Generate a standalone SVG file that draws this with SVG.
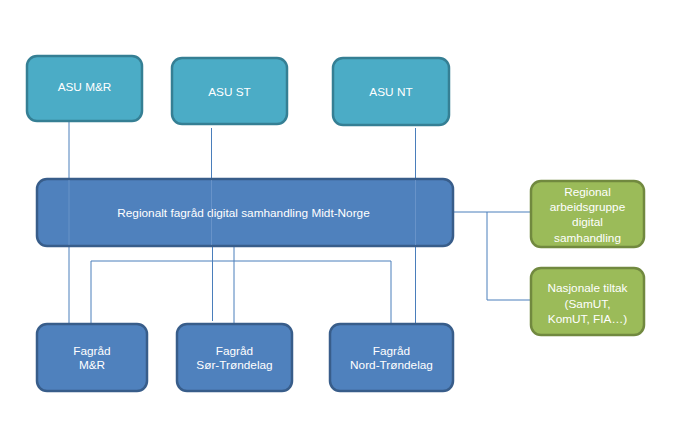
<svg xmlns="http://www.w3.org/2000/svg" width="681" height="430" viewBox="0 0 681 430">
<style>
.asu{fill:#4bacc6;stroke:#357f94;stroke-width:2.5}
.blue{fill:#4f81bd;stroke:#385d8a;stroke-width:2.5}
.green{fill:#9bbb59;stroke:#71893f;stroke-width:2.5}
text{font-family:"Liberation Sans",Arial,sans-serif;font-size:11.8px;fill:#ffffff;text-anchor:middle;dominant-baseline:central}
.c{fill:none;stroke:#4a7ebb;stroke-width:1}
.ci{fill:none;stroke:#7aa0d0;stroke-width:1;opacity:0.6}
</style>
<rect width="681" height="430" fill="#ffffff"/>
<g id="connectors">
<line class="c" x1="69" y1="122" x2="69" y2="179"/>
<line class="c" x1="69" y1="246" x2="69" y2="324"/>
<line class="c" x1="211.5" y1="128" x2="211.5" y2="179"/>
<line class="c" x1="212.5" y1="246" x2="212.5" y2="321"/>
<line class="c" x1="415.5" y1="128" x2="415.5" y2="179"/>
<line class="c" x1="415.5" y1="246" x2="415.5" y2="324"/>
<line class="c" x1="234" y1="246" x2="234" y2="324"/>
<polyline class="c" points="91,324 91,261 391,261 391,324"/>
<line class="c" x1="453" y1="212" x2="531" y2="212"/>
<polyline class="c" points="487,212 487,300 531,300"/>
</g>
<g id="asu-mr"><rect class="asu" x="27" y="56" width="115" height="65" rx="10"/><text x="84.5" y="87">ASU M&amp;R</text></g>
<g id="asu-st"><rect class="asu" x="172" y="58" width="115" height="66" rx="10"/><text x="229.5" y="92">ASU ST</text></g>
<g id="asu-nt"><rect class="asu" x="333" y="58" width="116" height="67" rx="10"/><text x="391" y="92">ASU NT</text></g>
<g id="regionalt"><rect class="blue" x="37" y="179" width="416" height="67" rx="10"/><text x="243.5" y="213">Regionalt fagråd digital samhandling Midt-Norge</text></g>
<g id="connectors-over">
<line class="ci" x1="69" y1="180" x2="69" y2="245"/>
<line class="ci" x1="211.5" y1="180" x2="211.5" y2="245"/>
<line class="ci" x1="415.5" y1="180" x2="415.5" y2="245"/>
</g>
<g id="arbeidsgruppe"><rect class="green" x="531" y="181" width="113" height="66" rx="10"/>
<text x="587.5" y="192">Regional</text><text x="587.5" y="207">arbeidsgruppe</text><text x="587.5" y="222">digital</text><text x="587.5" y="238">samhandling</text></g>
<g id="nasjonale"><rect class="green" x="531" y="268" width="113" height="67" rx="10"/>
<text x="587.5" y="288">Nasjonale tiltak</text><text x="587.5" y="304">(SamUT,</text><text x="587.5" y="319">KomUT, FIA…)</text></g>
<g id="fagrad-mr"><rect class="blue" x="37" y="324" width="110" height="67" rx="10"/><text x="92" y="351">Fagråd</text><text x="92" y="365">M&amp;R</text></g>
<g id="fagrad-st"><rect class="blue" x="177" y="324" width="115" height="67" rx="10"/><text x="234.5" y="351">Fagråd</text><text x="234.5" y="365">Sør-Trøndelag</text></g>
<g id="fagrad-nt"><rect class="blue" x="330" y="324" width="123" height="67" rx="10"/><text x="391.5" y="351">Fagråd</text><text x="391.5" y="365">Nord-Trøndelag</text></g>
</svg>
